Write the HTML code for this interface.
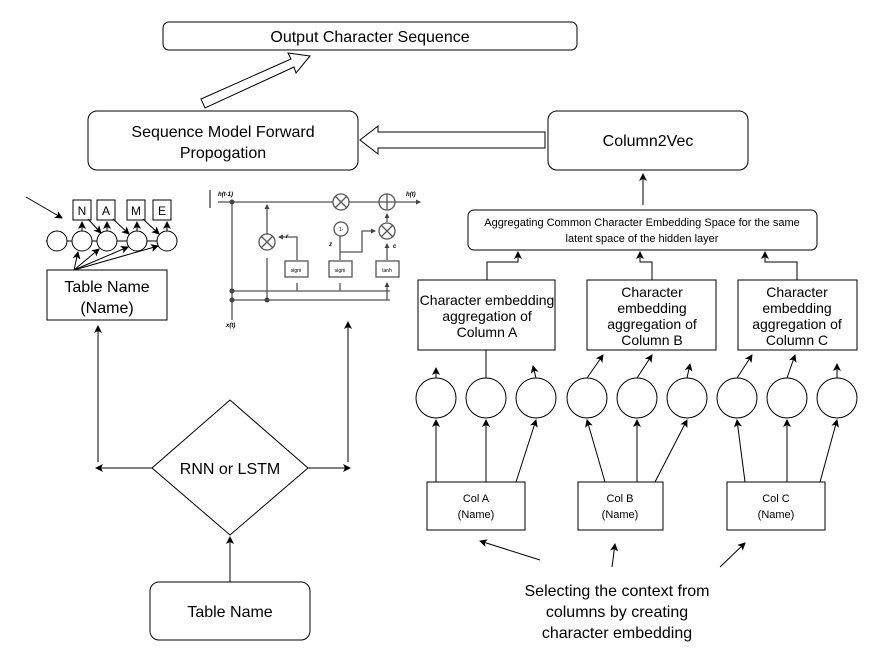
<!DOCTYPE html><html><head><style>body{margin:0;background:#fff}svg{display:block}text{font-family:"Liberation Sans",sans-serif;fill:#000}</style></head><body>
<svg width="878" height="671" viewBox="0 0 878 671">
<defs><marker id="a" markerWidth="8" markerHeight="8" refX="7" refY="4" orient="auto" markerUnits="userSpaceOnUse"><path d="M0,0 L8,4 L0,8 L2,4z" fill="#000"/></marker>
<marker id="s" markerWidth="5" markerHeight="5" refX="4" refY="2.5" orient="auto" markerUnits="userSpaceOnUse"><path d="M0,0 L5,2.5 L0,5z" fill="#444"/></marker></defs>
<g stroke="#000" fill="none" stroke-width="1">
<rect x="163" y="22" width="414" height="28" rx="6"/>
<rect x="88" y="111" width="270" height="59" rx="9"/>
<rect x="548" y="111" width="200" height="59" rx="9"/>
<rect x="468" y="210" width="349" height="40" rx="6"/>
<rect x="418" y="280" width="137" height="70"/>
<rect x="587" y="280" width="129" height="70"/>
<rect x="738" y="280" width="119" height="70"/>
<rect x="427" y="482" width="98" height="48"/>
<rect x="578" y="482" width="85" height="48"/>
<rect x="727" y="482" width="98" height="48"/>
<rect x="47" y="270" width="120" height="50"/>
<rect x="150" y="582" width="160" height="58" rx="9"/>
<path d="M230,400 L308,468 L230,535 L152,468z"/>
<path d="M201,99 L291,59 L288,53 L310,56 L296,73 L294,67 L205,108z"/>
<path d="M545,132 L378,132 L378,126 L360,140 L378,154 L378,148 L545,148z"/>
<path d="M643,205 V174" marker-end="url(#a)"/>
<path d="M487,280 V262 H518 V252" marker-end="url(#a)"/>
<path d="M652,280 V262 H640 V252" marker-end="url(#a)"/>
<path d="M797,280 V262 H765 V252" marker-end="url(#a)"/>
<path d="M230,582 V537" marker-end="url(#a)"/>
<path d="M152,468 H96" marker-end="url(#a)"/>
<path d="M98,462 V326" marker-end="url(#a)"/>
<path d="M308,468 H350" marker-end="url(#a)"/>
<path d="M348,462 V322" marker-end="url(#a)"/>
<path d="M210,190 V208"/>
<path d="M26,197 L62,218" marker-end="url(#a)"/>
<path d="M540,560 L480,541" marker-end="url(#a)"/>
<path d="M612,567 L615,544" marker-end="url(#a)"/>
<path d="M720,567 L745,543" marker-end="url(#a)"/>
</g>
<g stroke="#000" fill="#fff">
<circle cx="436" cy="398" r="20"/><circle cx="486" cy="398" r="20"/><circle cx="536" cy="398" r="20"/>
<circle cx="587" cy="398" r="20"/><circle cx="637" cy="398" r="20"/><circle cx="687" cy="398" r="20"/>
<circle cx="737" cy="398" r="20"/><circle cx="787" cy="398" r="20"/><circle cx="837" cy="398" r="20"/>
<path d="M46,241H177" fill="none"/>
<circle cx="57" cy="241" r="10"/><circle cx="82" cy="241" r="10"/><circle cx="107" cy="241" r="10"/><circle cx="137" cy="241" r="10"/><circle cx="167" cy="241" r="10"/>
<rect x="73" y="200" width="18" height="20"/><rect x="97" y="200" width="18" height="20"/><rect x="127" y="200" width="18" height="20"/><rect x="153" y="200" width="18" height="20"/>
</g>
<g stroke="#000" fill="none">
<path d="M436,378V368" marker-end="url(#a)"/><path d="M486,378V350"/><path d="M536,378L533,366" marker-end="url(#a)"/>
<path d="M587,378L603,355" marker-end="url(#a)"/><path d="M637,378L652,355" marker-end="url(#a)"/><path d="M687,378L690,364" marker-end="url(#a)"/>
<path d="M737,378L752,355" marker-end="url(#a)"/><path d="M787,378L795,355" marker-end="url(#a)"/><path d="M837,378V364" marker-end="url(#a)"/>
<path d="M436,482V420" marker-end="url(#a)"/><path d="M486,482V420" marker-end="url(#a)"/><path d="M516,482L536,420" marker-end="url(#a)"/>
<path d="M605,482L587,420" marker-end="url(#a)"/><path d="M637,482V420" marker-end="url(#a)"/><path d="M655,482L687,420" marker-end="url(#a)"/>
<path d="M745,482L737,420" marker-end="url(#a)"/><path d="M787,482V420" marker-end="url(#a)"/><path d="M820,482L837,420" marker-end="url(#a)"/>
<path d="M74,270L78,252" marker-end="url(#a)"/><path d="M74,270L99,249" marker-end="url(#a)"/><path d="M74,270L128,247" marker-end="url(#a)"/><path d="M74,270L158,246" marker-end="url(#a)"/>
<path d="M82,231V222" marker-end="url(#a)"/><path d="M107,231V222" marker-end="url(#a)"/><path d="M137,231V222" marker-end="url(#a)"/><path d="M167,231V222" marker-end="url(#a)"/>
<path d="M88,219L101,233" marker-end="url(#a)"/><path d="M113,219L129,234" marker-end="url(#a)"/><path d="M143,219L159,234" marker-end="url(#a)"/>
</g>
<g stroke="#555" fill="none" stroke-width="1.3">
<path d="M218,202H336 M348,202H383 M395,202H420" marker-end="url(#s)"/>
<path d="M232,202V320"/>
<path d="M232,291H390 M232,300H390"/>
<path d="M267,300V258 M267,234V205" marker-end="url(#s)"/>
<path d="M297,291V283 M340,291V283 M387,300V283" marker-end="url(#s)"/>
<path d="M297,260V237H279" marker-end="url(#s)"/>
<path d="M340,260V222" marker-end="url(#s)"/><path d="M342,210V206" marker-end="url(#s)"/>
<path d="M340,252H362V231H375" marker-end="url(#s)"/>
<path d="M387,260V244" marker-end="url(#s)"/><path d="M387,222V214" marker-end="url(#s)"/>
<circle cx="267" cy="242" r="8" fill="#fff"/><path d="M261,236l12,12m0-12l-12,12"/>
<circle cx="341" cy="202" r="8" fill="#fff"/><path d="M335,196l12,12m0-12l-12,12"/>
<circle cx="387" cy="202" r="8" fill="#fff"/><path d="M387,194v16m-8,-8h16"/>
<circle cx="387" cy="231" r="8" fill="#fff"/><path d="M381,225l12,12m0-12l-12,12"/>
<circle cx="341" cy="229" r="7" fill="#fff"/>
<rect x="285" y="261" width="23" height="16" fill="#fff"/><rect x="329" y="261" width="23" height="16" fill="#fff"/><rect x="376" y="261" width="23" height="16" fill="#fff"/>
</g>
<g fill="#444"><circle cx="232" cy="202" r="2.5"/><circle cx="232" cy="291" r="2.5"/><circle cx="232" cy="300" r="2.5"/><circle cx="267" cy="300" r="2.5"/></g>
<g font-size="6" font-weight="bold" font-style="italic"><text x="218" y="196">h(t-1)</text><text x="406" y="196">h(t)</text><text x="226" y="327">x(t)</text><text x="286" y="238">r</text><text x="329" y="246">z</text><text x="393" y="248">c</text></g>
<g font-size="5" text-anchor="middle"><text x="296" y="272">sigm</text><text x="340" y="272">sigm</text><text x="387" y="272">tanh</text><text x="341" y="231">1-</text></g>
<g font-size="16" text-anchor="middle">
<text x="370" y="42">Output Character Sequence</text>
<text x="223" y="137">Sequence Model Forward</text><text x="223" y="158">Propogation</text>
<text x="648" y="146">Column2Vec</text>
<text x="230" y="474">RNN or LSTM</text>
<text x="230" y="617">Table Name</text>
<text x="107" y="292">Table Name</text><text x="107" y="313">(Name)</text>
<text x="617" y="596">Selecting the context from</text><text x="617" y="617">columns by creating</text><text x="617" y="638">character embedding</text>
</g>
<g font-size="14" text-anchor="middle">
<text x="487" y="305">Character embedding</text><text x="487" y="321">aggregation of</text><text x="487" y="337">Column A</text>
<text x="652" y="297">Character</text><text x="652" y="313">embedding</text><text x="652" y="329">aggregation of</text><text x="652" y="345">Column B</text>
<text x="797" y="297">Character</text><text x="797" y="313">embedding</text><text x="797" y="329">aggregation of</text><text x="797" y="345">Column C</text>
</g>
<g font-size="11" text-anchor="middle">
<text x="642" y="226">Aggregating Common Character Embedding Space for the same</text><text x="642" y="242">latent space of the hidden layer</text>
<text x="476" y="502">Col A</text><text x="476" y="518">(Name)</text>
<text x="620" y="502">Col B</text><text x="620" y="518">(Name)</text>
<text x="776" y="502">Col C</text><text x="776" y="518">(Name)</text>
</g>
<g font-size="12" text-anchor="middle"><text x="82" y="215">N</text><text x="106" y="215">A</text><text x="136" y="215">M</text><text x="162" y="215">E</text></g>
</svg></body></html>
